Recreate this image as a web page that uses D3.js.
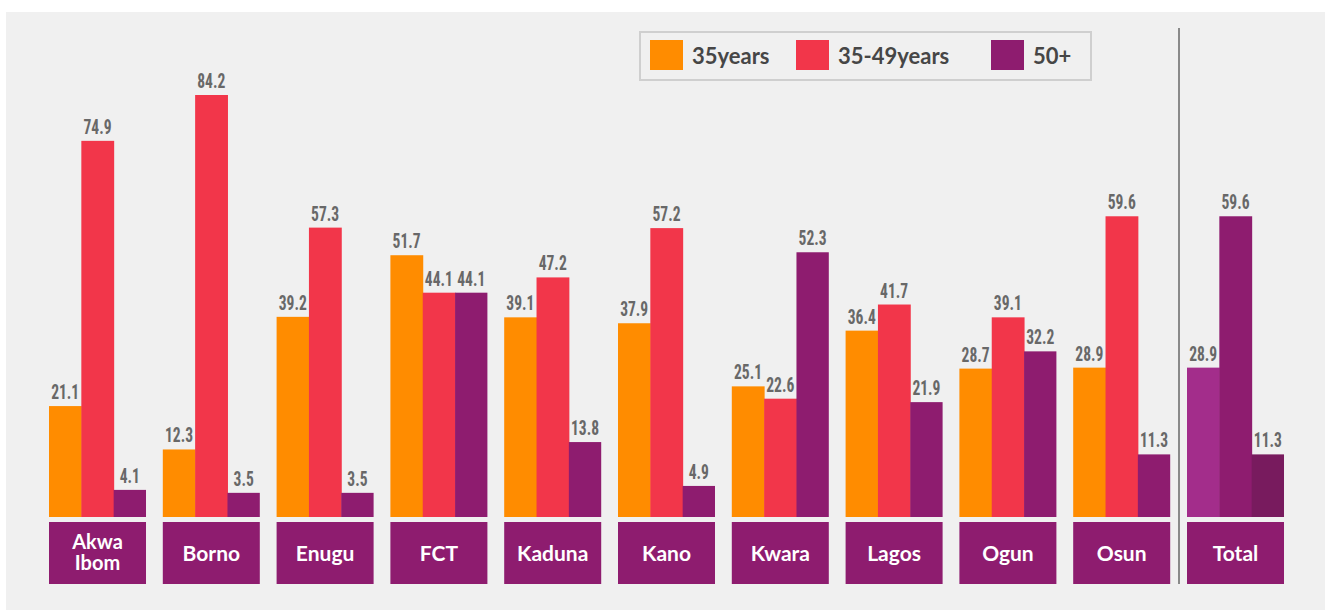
<!DOCTYPE html>
<html>
<head>
<meta charset="utf-8">
<script src="https://cdn.jsdelivr.net/npm/d3@7"></script>
<style>
  html, body { margin: 0; padding: 0; background: #ffffff; }
  svg { display: block; }
</style>
</head>
<body>
<svg id="chart" width="1325" height="610"></svg>
<script>
// ---- data ----
const categories = ["Akwa Ibom", "Borno", "Enugu", "FCT", "Kaduna", "Kano", "Kwara", "Lagos", "Ogun", "Osun"];
const seriesNames = ["35years", "35-49years", "50+"];
const under35 = [21.1, 12.3, 39.2, 51.7, 39.1, 37.9, 25.1, 36.4, 28.7, 28.9];
const age35to49 = [74.9, 84.2, 57.3, 44.1, 47.2, 57.2, 22.6, 41.7, 39.1, 59.6];
const age50plus = [4.1, 3.5, 3.5, 44.1, 13.8, 4.9, 52.3, 21.9, 32.2, 11.3];
const totalLabel = "Total";
const totalValues = [28.9, 59.6, 11.3];

const seriesColors = ["#ff8c00", "#f2364a", "#8e1c6f"];
const totalColors = ["#a32d8b", "#8e1c6f", "#781b5e"];

// ---- layout ----
const svg = d3.select("#chart");
const baseline = 517;

svg.append("rect").attr("x", 6).attr("y", 12).attr("width", 1319).attr("height", 598).attr("fill", "#f0f0f0");

const x = d3.scaleBand().domain(categories).range([49, 1170.2]).paddingInner(0.1476).paddingOuter(0);
const xTotal = d3.scaleBand().domain([totalLabel]).range([1187, 1284]);
const xSub = d3.scaleBand().domain(seriesNames).range([0, x.bandwidth()]).padding(0);
const y = d3.scaleLinear().domain([-1.4, 84.2]).range([baseline, 95]);

const rows = categories.map((c, i) => ({
  cat: c, x0: x(c),
  vals: [under35[i], age35to49[i], age50plus[i]],
  colors: seriesColors
}));
rows.push({ cat: totalLabel, x0: xTotal(totalLabel), vals: totalValues, colors: totalColors });

const labelFont = "'Liberation Sans Narrow', 'Roboto Condensed', 'DejaVu Sans Condensed', sans-serif";

rows.forEach(r => {
  const g = svg.append("g").attr("transform", `translate(${r.x0},0)`);
  seriesNames.forEach((s, j) => {
    const v = r.vals[j];
    g.append("rect")
      .attr("x", xSub(s))
      .attr("y", y(v))
      .attr("width", xSub.bandwidth() + (j < 2 ? 0.5 : 0))
      .attr("height", baseline - y(v))
      .attr("fill", r.colors[j]);
    const tx = xSub(s) + xSub.bandwidth() / 2;
    g.append("text")
      .attr("transform", `translate(${tx},${y(v) - 7}) scale(0.74,1)`)
      .attr("text-anchor", "middle")
      .attr("font-family", labelFont)
      .attr("font-weight", "bold")
      .attr("font-size", 21)
      .attr("fill", "#686868")
      .text(v.toFixed(1));
  });
  // category box
  const bw = x.bandwidth();
  svg.append("rect").attr("x", r.x0).attr("y", 522).attr("width", bw).attr("height", 62).attr("fill", "#8e1c6f");
  const words = r.cat.split(" ");
  const t = svg.append("text")
    .attr("text-anchor", "middle")
    .attr("font-family", "Lato, 'Open Sans', sans-serif")
    .attr("font-weight", "bold")
    .attr("font-size", words.length === 1 ? 21 : 20)
    .attr("fill", "#ffffff");
  if (words.length === 1) {
    t.append("tspan").attr("x", r.x0 + bw / 2).attr("y", 561).text(r.cat);
  } else {
    words.forEach((w, k) => t.append("tspan").attr("x", r.x0 + bw / 2).attr("y", 549 + k * 21).text(w));
  }
});

// divider
svg.append("line").attr("x1", 1179).attr("x2", 1179).attr("y1", 28).attr("y2", 584)
  .attr("stroke", "#8a8a8a").attr("stroke-width", 2);

// legend
const legend = svg.append("g");
legend.append("rect").attr("x", 640).attr("y", 32).attr("width", 451).attr("height", 48)
  .attr("fill", "#f0f0f0").attr("stroke", "#cfcfcf").attr("stroke-width", 2);
const legendX = [650, 796, 991];
seriesNames.forEach((s, j) => {
  legend.append("rect").attr("x", legendX[j]).attr("y", 40).attr("width", 33).attr("height", 30).attr("fill", seriesColors[j]);
  legend.append("text").attr("x", legendX[j] + 42).attr("y", 64)
    .attr("font-family", "Lato, 'Open Sans', sans-serif").attr("font-weight", "bold")
    .attr("font-size", 22).attr("fill", "#464646").text(s);
});
</script>
</body>
</html>
